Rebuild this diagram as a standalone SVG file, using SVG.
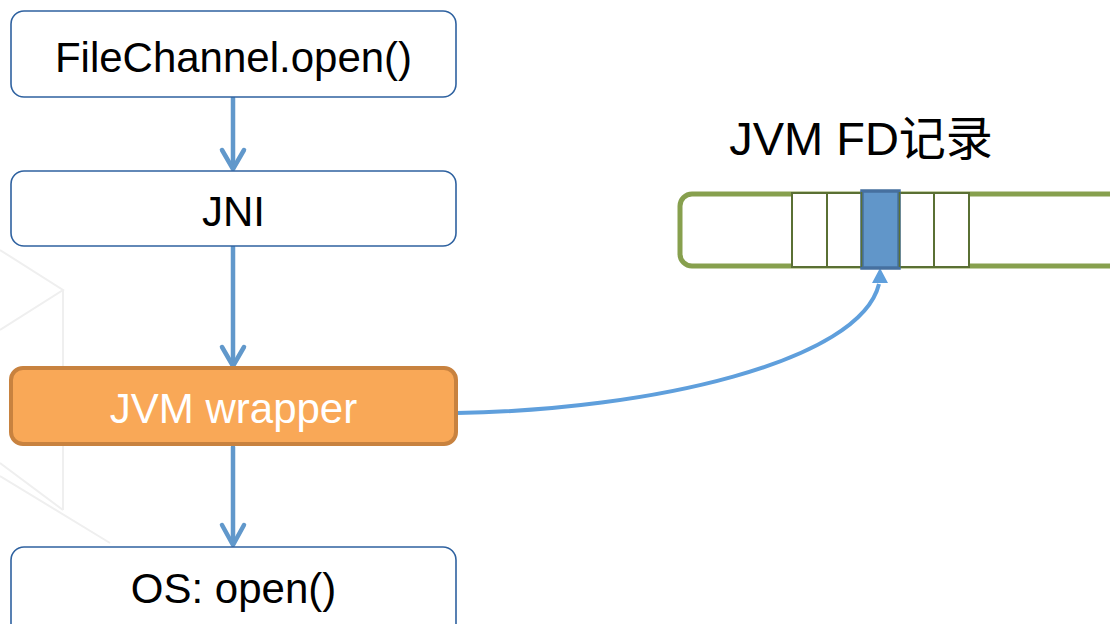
<svg xmlns="http://www.w3.org/2000/svg" width="1110" height="624" viewBox="0 0 1110 624">
  <defs>
    <style>
      .box { fill: #ffffff; stroke: #2f62a0; stroke-width: 1.6; }
      .hot { fill: #f9a857; stroke: #c8823f; stroke-width: 4; }
      .lbl { font-family: "Liberation Sans", Arial, sans-serif; font-size: 42px; fill: #000000; text-anchor: middle; }
      .lblw { fill: #ffffff; }
      .flow { fill: none; stroke: #6198cb; stroke-width: 4.5; stroke-linecap: round; stroke-linejoin: round; }
      .curve { fill: none; stroke: #5f9fdc; stroke-width: 4; }
      .cell { fill: #ffffff; stroke: #5a7034; stroke-width: 2; }
      .wm { fill: none; stroke: #efefef; stroke-width: 2; }
    </style>
  </defs>

  <g id="watermark">
    <polyline class="wm" points="0,250 63,290 0,330"/>
    <line class="wm" x1="63" y1="290" x2="63" y2="510"/>
    <polyline class="wm" points="0,463 63,510"/>
    <line class="wm" x1="0" y1="476" x2="110" y2="543"/>
  </g>

  <g id="connectors">
    <line class="flow" x1="233" y1="98" x2="233" y2="168"/>
    <polyline class="flow" points="222,150 233,169 244,150"/>
    <line class="flow" x1="233" y1="247" x2="233" y2="364"/>
    <polyline class="flow" points="222,347 233,366 244,347"/>
    <line class="flow" x1="233" y1="447" x2="233" y2="544"/>
    <polyline class="flow" points="222,525 233,545 244,525"/>
    <path class="curve" d="M457,413 C650,410 860,362 879,284"/>
    <path d="M880,268 L888,283 L872,283 Z" fill="#5f9fdc"/>
  </g>

  <g id="node-filechannel">
    <rect class="box" x="11" y="11" width="445" height="86" rx="13"/>
    <text class="lbl" x="233.5" y="72">FileChannel.open()</text>
  </g>

  <g id="node-jni">
    <rect class="box" x="11" y="171" width="445" height="75" rx="13"/>
    <text class="lbl" x="233.5" y="226">JNI</text>
  </g>

  <g id="node-jvm-wrapper">
    <rect class="hot" x="11" y="368" width="445" height="76" rx="12"/>
    <text class="lbl lblw" x="233.5" y="423">JVM wrapper</text>
  </g>

  <g id="node-os-open">
    <rect class="box" x="11" y="547" width="445" height="90" rx="13"/>
    <text class="lbl" x="233.5" y="603">OS: open()</text>
  </g>

  <g id="node-fd-record">
    <text x="861" y="155" style="font-family: 'Liberation Sans', Arial, 'Noto Sans CJK SC', sans-serif; font-size: 47px; fill: #000000; text-anchor: middle;">JVM FD记录</text>
    <rect x="680" y="194" width="460" height="72" rx="12" fill="#ffffff" stroke="#87a04e" stroke-width="5"/>
    <rect class="cell" x="792" y="193" width="35" height="74"/>
    <rect class="cell" x="827" y="193" width="35" height="74"/>
    <rect class="cell" x="898" y="193" width="36" height="74"/>
    <rect class="cell" x="934" y="193" width="35" height="74"/>
    <rect x="862" y="191" width="37" height="77" fill="#6196c9" stroke="#46709f" stroke-width="3.5"/>
    <line x1="861.5" y1="192" x2="861.5" y2="267" stroke="#5a7034" stroke-width="1.5"/>
    <line x1="899.5" y1="192" x2="899.5" y2="267" stroke="#5a7034" stroke-width="1.5"/>
  </g>
</svg>
